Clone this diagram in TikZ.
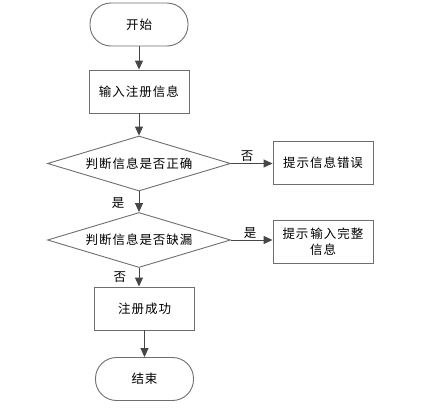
\documentclass[tikz,border=0pt]{standalone}
\usepackage{fontspec}
\newfontfamily\cjk[LetterSpace=8]{Noto Sans CJK SC}
\usetikzlibrary{shapes.geometric,arrows.meta}
\definecolor{linec}{RGB}{70,70,70}
\definecolor{boxc}{RGB}{110,110,110}
\tikzset{
  base/.style={draw=boxc, line width=0.9pt, font=\cjk\fontsize{12.5}{16}\selectfont, text=black, align=center, inner sep=0pt},
  term/.style={base, rounded corners=21pt, minimum width=98pt, minimum height=43pt},
  proc/.style={base, rectangle, minimum width=100pt, minimum height=43pt},
  dec/.style={base, diamond, aspect=3.3, minimum width=183pt, minimum height=55pt},
  arr/.style={draw=linec, line width=0.9pt, -{Triangle[length=9pt,width=8pt]}},
  lbl/.style={font=\cjk\fontsize{12.5}{16}\selectfont, text=black, inner sep=0pt}
}
\begin{document}
\begin{tikzpicture}[x=1pt,y=-1pt]
\useasboundingbox (0,0) rectangle (424,410);
\node[term] (start) at (139,24.5) {开始};
\node[proc] (input) at (139,91.5) {输入注册信息};
\node[dec] (d1) at (139,163.5) {判断信息是否正确};
\node[proc] (err) at (323,163) {提示信息错误};
\node[dec] (d2) at (139,240) {判断信息是否缺漏};
\node[proc, text width=96pt] (miss) at (323,242) {提示\hspace{2pt}输入完整\\信息};
\node[proc] (ok) at (144.5,308.5) {注册成功};
\node[term] (end) at (144.5,379) {结束};
\draw[arr] (start) -- (input);
\draw[arr] (input) -- (d1);
\draw[arr] (d1.east) -- (err.west |- d1.east);
\draw[arr] (d1) -- (d2);
\draw[arr] (d2.east) -- (miss.west |- d2.east);
\draw[arr] (d2.south) -- (d2.south |- ok.north);
\draw[arr] (ok) -- (end);
\node[lbl] (l1) at (247,156) {否};
\node[lbl] (l2) at (118,203) {是};
\node[lbl] (l3) at (250,233) {是};
\node[lbl] (l4) at (120,277) {否};
\end{tikzpicture}
\end{document}
